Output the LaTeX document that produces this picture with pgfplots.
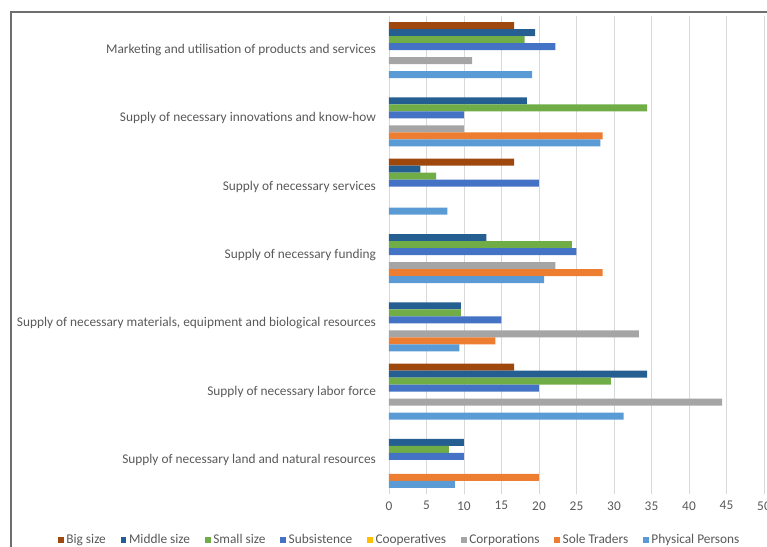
\documentclass[border=0pt]{standalone}
\usepackage{fontspec}
\setmainfont{Carlito}
\usepackage{pgfplots}
\pgfplotsset{compat=1.18}

\definecolor{bigc}{HTML}{9E480E}
\definecolor{midc}{HTML}{255E91}
\definecolor{smallc}{HTML}{70AD47}
\definecolor{subc}{HTML}{4472C4}
\definecolor{coopc}{HTML}{FFC000}
\definecolor{corpc}{HTML}{A5A5A5}
\definecolor{solec}{HTML}{ED7D31}
\definecolor{physc}{HTML}{5B9BD5}
\definecolor{txt}{HTML}{595959}
\definecolor{gridc}{HTML}{D9D9D9}
\definecolor{framec}{HTML}{6E6E6E}

\begin{document}
\begin{tikzpicture}
\useasboundingbox (-291.75pt,-39pt) rectangle (283.5pt,370.5pt);
\begin{axis}[
    at={(0,0)}, anchor=south west,
    width=281.25pt, height=358.5pt,
    scale only axis,
    xbar, bar width=5.25pt,
    xmin=0, xmax=50,
    ymin=-0.5, ymax=6.5,
    xtick={0,5,...,50},
    ytick={0,1,2,3,4,5,6},
    yticklabels={
        Supply of necessary land and natural resources,
        Supply of necessary labor force,
        {Supply of necessary materials, equipment and biological resources},
        Supply of necessary funding,
        Supply of necessary services,
        Supply of necessary innovations and know-how,
        Marketing and utilisation of products and services},
    axis line style={draw=none},
    xmajorgrids, grid style={gridc, line width=0.6pt},
    tick style={draw=none},
    ticklabel style={font=\fontsize{10}{12}\selectfont, text=txt},
    /pgf/number format/assume math mode=true,
    yticklabel style={xshift=-2pt},
    xticklabel style={yshift=-2pt},
    legend columns=-1,
    legend style={at={(0.0293,-0.0962)}, anchor=center, draw=none,
        font=\fontsize{10}{12}\selectfont, text=txt,
        /tikz/every even column/.append style={column sep=9pt}},
    legend image code/.code={\fill[#1] (0pt,-2.2pt) rectangle (4.4pt,2.2pt);},
]
% Big size
\addplot[draw=none, fill=bigc, bar shift=18.375pt] coordinates {
    (16.7,6) (16.7,4) (16.7,1)
};
% Middle size
\addplot[draw=none, fill=midc, bar shift=13.125pt] coordinates {
    (19.5,6) (18.4,5) (4.2,4) (13.0,3) (9.6,2) (34.4,1) (10.0,0)
};
% Small size
\addplot[draw=none, fill=smallc, bar shift=7.875pt] coordinates {
    (18.1,6) (34.4,5) (6.3,4) (24.4,3) (9.6,2) (29.6,1) (8.0,0)
};
% Subsistence
\addplot[draw=none, fill=subc, bar shift=2.625pt] coordinates {
    (22.2,6) (10.0,5) (20.0,4) (25.0,3) (15.0,2) (20.0,1) (10.0,0)
};
% Cooperatives (no answers)
\addplot[draw=none, fill=coopc, bar shift=-2.625pt] coordinates {
    (0,6)
};
% Corporations
\addplot[draw=none, fill=corpc, bar shift=-7.875pt] coordinates {
    (11.1,6) (10.0,5) (22.2,3) (33.3,2) (44.4,1)
};
% Sole Traders
\addplot[draw=none, fill=solec, bar shift=-13.125pt] coordinates {
    (28.5,5) (28.5,3) (14.2,2) (20.0,0)
};
% Physical Persons
\addplot[draw=none, fill=physc, bar shift=-18.375pt] coordinates {
    (19.1,6) (28.2,5) (7.8,4) (20.7,3) (9.4,2) (31.3,1) (8.8,0)
};
\legend{Big size, Middle size, Small size, Subsistence, Cooperatives,
    Corporations, Sole Traders, Physical Persons}
\end{axis}
\draw[framec, line width=1.1pt] (-283.5pt,-45pt) -- (-283.5pt,361.5pt) -- (300pt,361.5pt);
\end{tikzpicture}
\end{document}
